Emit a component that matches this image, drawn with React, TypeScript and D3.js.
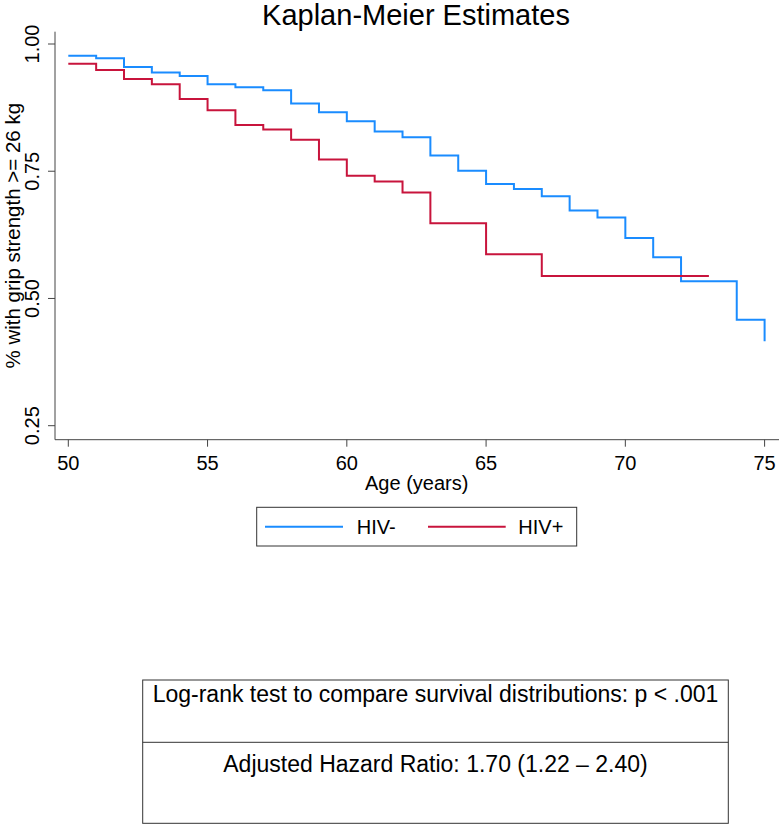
import React from "react";
import * as d3 from "d3";

// ---- Data ----
const xTicks = [50, 55, 60, 65, 70, 75];
const yTicks = [0.25, 0.5, 0.75, 1.0];

// HIV- (step times and survival estimates)
const hivNegTimes = [50, 51, 52, 53, 54, 55, 56, 57, 58, 59, 60, 61, 62, 63, 64, 65, 66, 67, 68, 69, 70, 71, 72, 74, 75];
const hivNegSurv = [0.977, 0.972, 0.955, 0.944, 0.937, 0.921, 0.915, 0.909, 0.883, 0.866, 0.848, 0.828, 0.817, 0.781, 0.751, 0.725, 0.715, 0.701, 0.673, 0.659, 0.619, 0.581, 0.534, 0.458, 0.416];
const hivNegEnd = 75;

// HIV+
const hivPosTimes = [50, 51, 52, 53, 54, 55, 56, 57, 58, 59, 60, 61, 62, 63, 65, 67];
const hivPosSurv = [0.961, 0.949, 0.931, 0.921, 0.892, 0.870, 0.841, 0.832, 0.812, 0.773, 0.741, 0.730, 0.708, 0.648, 0.587, 0.544];
const hivPosEnd = 73;

const seriesNames = ["HIV-", "HIV+"];
const seriesColors = ["#1a8cff", "#c8143c"];

const titleText = "Kaplan-Meier Estimates";
const xTitle = "Age (years)";
const yTitle = "% with grip strength >= 26 kg";
const note1 = "Log-rank test to compare survival distributions: p < .001";
const note2 = "Adjusted Hazard Ratio: 1.70 (1.22 \u2013 2.40)";

const FONT = "'Liberation Sans', Arial, Helvetica, sans-serif";

function stepPoints(times: number[], surv: number[], end: number): [number, number][] {
  const pts: [number, number][] = times.map((t, i) => [t, surv[i]]);
  const last = pts[pts.length - 1];
  if (end > last[0]) pts.push([end, last[1]]);
  return pts;
}

export default function App() {
  const W = 779;
  const H = 824;
  const x = d3.scaleLinear().domain([50, 75]).range([68.3, 764.6]);
  const y = d3.scaleLinear().domain([0.25, 1]).range([425.7, 44]);
  const axisX = 55;
  const axisY = 439.7;
  const plotTop = 31.7;

  const line = d3
    .line<[number, number]>()
    .x((d) => x(d[0]))
    .y((d) => y(d[1]))
    .curve(d3.curveStepAfter);

  const series = [
    stepPoints(hivNegTimes, hivNegSurv, hivNegEnd),
    stepPoints(hivPosTimes, hivPosSurv, hivPosEnd),
  ];

  const axisColor = "#444";
  const fmt = d3.format(".2f");

  return (
    <div style={{ position: "absolute", left: 0, top: 0 }}>
      <svg width={W} height={H} style={{ display: "block", background: "#fff" }} fontFamily={FONT}>
        <rect x={0} y={0} width={W} height={H} fill="#fff" />
        {/* Title */}
        <text x={416} y={24.5} fontSize={29} textAnchor="middle" fill="#000">
          {titleText}
        </text>

        {/* Y axis */}
        <line x1={axisX} x2={axisX} y1={plotTop} y2={axisY} stroke={axisColor} strokeWidth={1} />
        {yTicks.map((t) => (
          <g key={"y" + t}>
            <line x1={axisX - 7} x2={axisX} y1={y(t)} y2={y(t)} stroke={axisColor} strokeWidth={1} />
            <text
              transform={`translate(39.3,${y(t)}) rotate(-90)`}
              textAnchor="middle"
              fontSize={20}
              fill="#000"
            >
              {fmt(t)}
            </text>
          </g>
        ))}
        <text
          transform={`translate(20,${(plotTop + axisY) / 2}) rotate(-90)`}
          textAnchor="middle"
          fontSize={20.5}
          fill="#000"
        >
          {yTitle}
        </text>

        {/* X axis */}
        <line x1={axisX} x2={W} y1={axisY} y2={axisY} stroke={axisColor} strokeWidth={1} />
        {xTicks.map((t) => (
          <g key={"x" + t}>
            <line x1={x(t)} x2={x(t)} y1={axisY} y2={axisY + 7} stroke={axisColor} strokeWidth={1} />
            <text x={x(t)} y={469.5} textAnchor="middle" fontSize={20} fill="#000">
              {t}
            </text>
          </g>
        ))}
        <text x={416.7} y={490} textAnchor="middle" fontSize={20} fill="#000">
          {xTitle}
        </text>

        {/* Curves */}
        {series.map((pts, i) => (
          <path key={"s" + i} d={line(pts) || ""} fill="none" stroke={seriesColors[i]} strokeWidth={2} />
        ))}

        {/* Legend */}
        <rect x={256.7} y={507.3} width={320} height={38.7} fill="none" stroke="#333" strokeWidth={1} />
        <line x1={265} x2={343} y1={526.7} y2={526.7} stroke={seriesColors[0]} strokeWidth={2} />
        <text x={356.7} y={534} fontSize={20} fill="#000">
          {seriesNames[0]}
        </text>
        <line x1={428} x2={505.7} y1={526.7} y2={526.7} stroke={seriesColors[1]} strokeWidth={2} />
        <text x={518.3} y={534} fontSize={20} fill="#000">
          {seriesNames[1]}
        </text>

        {/* Note box */}
        <rect x={142.7} y={680} width={585.6} height={143.3} fill="none" stroke="#333" strokeWidth={1} />
        <line x1={142.7} x2={728.3} y1={742.3} y2={742.3} stroke="#333" strokeWidth={1} />
        <text x={435.5} y={702.3} textAnchor="middle" fontSize={23} fill="#000">
          {note1}
        </text>
        <text x={435.5} y={771.7} textAnchor="middle" fontSize={23} fill="#000">
          {note2}
        </text>
      </svg>
    </div>
  );
}
